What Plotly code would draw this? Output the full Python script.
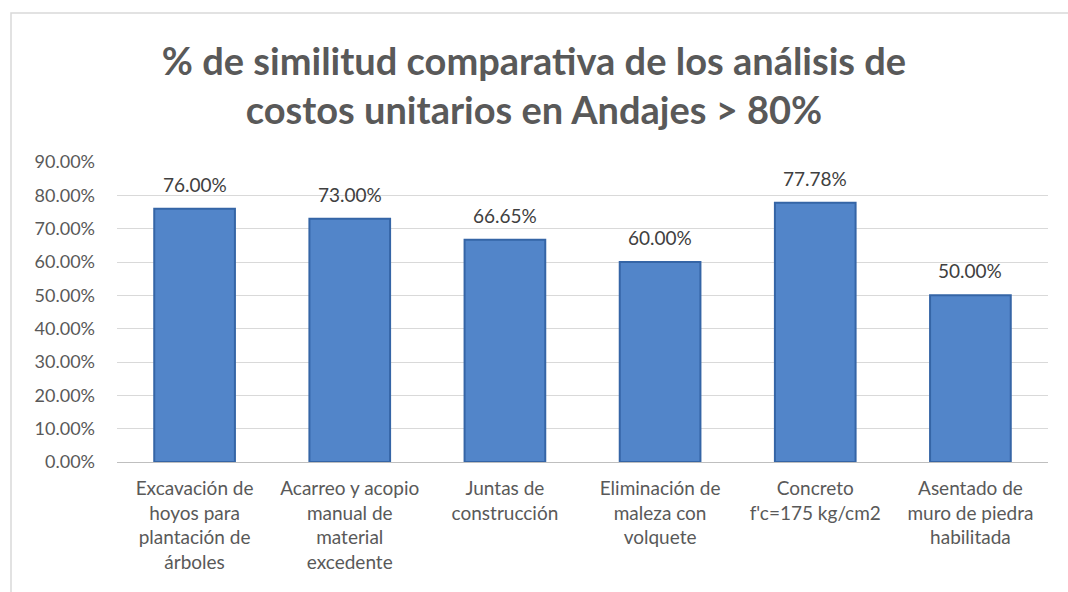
import plotly.graph_objects as go

categories = [
    "Excavación de<br>hoyos para<br>plantación de<br>árboles",
    "Acarreo y acopio<br>manual de<br>material<br>excedente",
    "Juntas de<br>construcción",
    "Eliminación de<br>maleza con<br>volquete",
    "Concreto<br>f'c=175 kg/cm2",
    "Asentado de<br>muro de piedra<br>habilitada",
]
values = [0.76, 0.73, 0.6665, 0.60, 0.7778, 0.50]
labels = ["76.00%", "73.00%", "66.65%", "60.00%", "77.78%", "50.00%"]
title_text = "% de similitud comparativa de los análisis de<br>costos unitarios en Andajes > 80%"

W, H = 1068, 592
L, R, T, B = 117, 20, 162, 130
pw = W - L - R
ph = H - T - B
FONT = "Lato, Open Sans, sans-serif"

fig = go.Figure()
fig.add_trace(go.Bar(
    x=categories, y=values,
    marker=dict(color="#5285c9", line=dict(color="#3565a6", width=2)),
    width=0.52,
))
for c, v, t in zip(categories, values, labels):
    fig.add_annotation(x=c, y=v, text=t, showarrow=False, yanchor="bottom",
                       yshift=11, font=dict(family=FONT, size=19, color="#404040"))

fig.update_layout(
    width=W, height=H,
    margin=dict(l=L, r=R, t=T, b=B),
    paper_bgcolor="white", plot_bgcolor="white",
    showlegend=False,
    title=dict(text=title_text, x=(534 - L) / pw, xanchor="center", xref="paper",
               y=1 - 75 / H, yanchor="middle",
               font=dict(family=FONT, size=38, color="#595959", weight="bold")),
    font=dict(family=FONT, color="#595959"),
    xaxis=dict(showgrid=False, showline=True, linecolor="#bfbfbf", linewidth=1,
               ticks="", ticklabelstandoff=9, tickfont=dict(size=19, color="#595959")),
    yaxis=dict(range=[0, 0.9], dtick=0.1, tickformat=".2%", showgrid=True,
               gridcolor="#d9d9d9", gridwidth=1, zeroline=False, showline=False,
               ticks="", ticklabelstandoff=21, tickfont=dict(size=18, color="#595959")),
    shapes=[dict(type="rect", xref="paper", yref="paper",
                 x0=(11 - L) / pw, x1=(W + 5 - L) / pw,
                 y0=(H - B - (H + 5)) / ph, y1=(H - B - 13) / ph,
                 line=dict(color="#d9d9d9", width=1.5), layer="below")],
)

fig.write_html("out.html", config={"displayModeBar": False},
               post_script="document.body.style.margin='0';document.body.style.overflow='hidden';")
